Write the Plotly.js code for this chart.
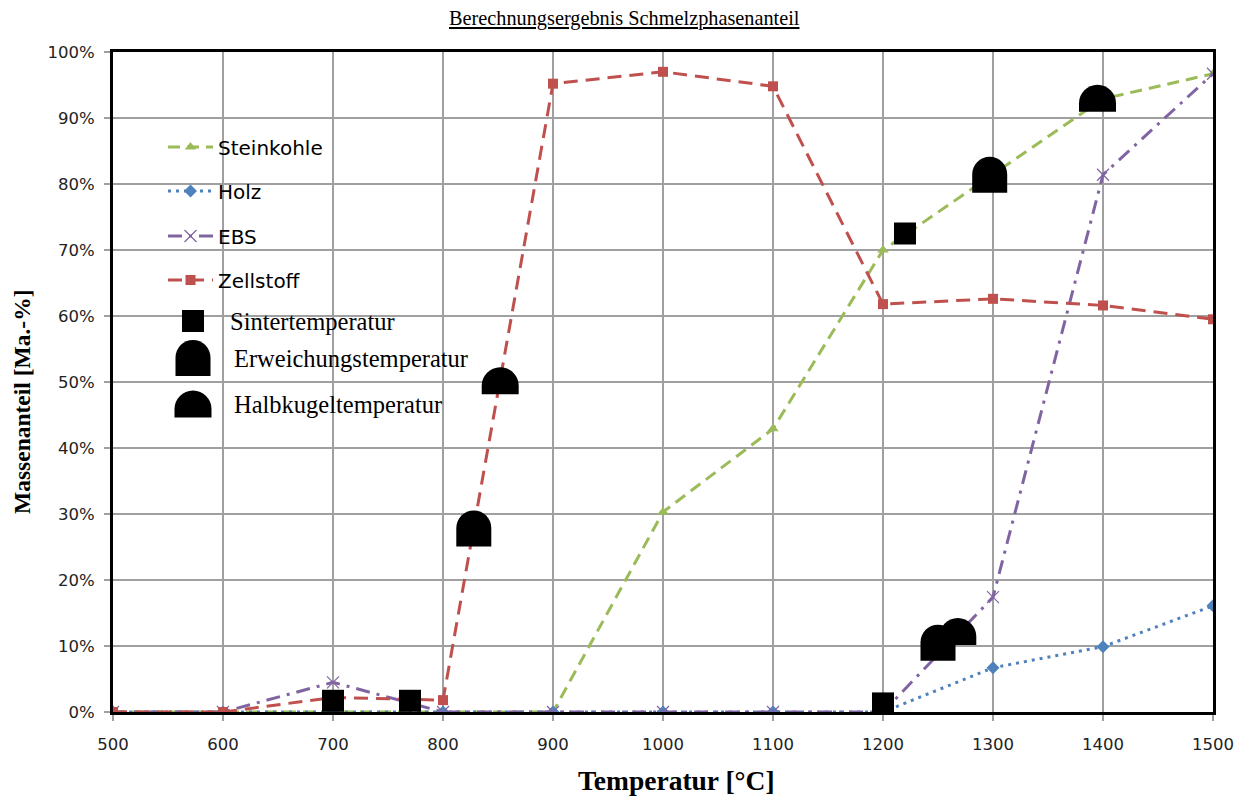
<!DOCTYPE html>
<html>
<head>
<meta charset="utf-8">
<script src="https://cdn.plot.ly/plotly-3.0.1.min.js"></script>
<style>html,body{margin:0;padding:0;background:#fff;}#chart{width:1246px;height:796px;}</style>
</head>
<body>
<div id="chart"></div>
<script>
// ---- Data ----
const temperatures = [500, 600, 700, 800, 900, 1000, 1100, 1200, 1300, 1400, 1500];
const steinkohle = [0, 0, 0, 0, 0, 30.3, 42.9, 70.0, 81.5, 92.9, 96.7];
const holz       = [0, 0, 0, 0, 0, 0, 0, 0, 6.7, 9.9, 16.1];
const ebs        = [0, 0, 4.5, 0, 0, 0, 0, 0, 17.4, 81.4, 96.7];
const zellstoff  = [0, 0, 2.2, 1.8, 95.2, 97.0, 94.8, 61.8, 62.6, 61.6, 59.5];

const sinterT = [700, 770, 1200, 1220];
const sinterV = [1.7, 1.7, 1.3, 72.5];
const erweichT = [828, 1250, 1297];
const erweichV = [27.8, 10.5, 81.4];
const halbkugelT = [852, 1268, 1395];
const halbkugelV = [50.2, 12.2, 93.0];

const seriesNames = ['Steinkohle', 'Holz', 'EBS', 'Zellstoff'];
const markerNames = ['Sintertemperatur', 'Erweichungstemperatur', 'Halbkugeltemperatur'];
const xTicks = [500, 600, 700, 800, 900, 1000, 1100, 1200, 1300, 1400, 1500];
const yTicks = [0, 10, 20, 30, 40, 50, 60, 70, 80, 90, 100];

// ---- Layout helpers ----
const L = 113, R = 1213, T = 52, B = 712;
const px2x = p => (p - L) / (R - L);
const py2y = p => (B - p) / (B - T);

function k(r) { return 0.5523 * r; }
// arch: semicircle on rectangle, centred at anchor (pixel units, y up)
function archPath(w, h) {
  const r = w / 2, bottom = -h / 2, top = h / 2, yc = top - r, c = k(r);
  return `M ${-r},${bottom} L ${-r},${yc} C ${-r},${yc + c} ${-c},${top} 0,${top} C ${c},${top} ${r},${yc + c} ${r},${yc} L ${r},${bottom} Z`;
}
const ARCH = archPath(35, 36);
const DOME = archPath(37, 27);

const colors = ['#9BBB59', '#4F81BD', '#8064A2', '#C0504D'];
const dashes = ['12px,7px', '3px,5px', '14px,7px,3px,7px', '14px,8px'];
const symbols = ['triangle-up', 'diamond', 'x-thin-open', 'square'];
const msizes = [10, 10, 12, 10];
const seriesData = [steinkohle, holz, ebs, zellstoff];
const legendY = [147, 191, 236, 280];

const traces = seriesData.map((vals, i) => ({
  type: 'scatter', mode: 'lines+markers', name: seriesNames[i],
  x: temperatures, y: vals,
  legend: i === 0 ? 'legend' : 'legend' + (i + 1),
  line: {color: colors[i], width: 3, dash: dashes[i]},
  marker: {symbol: symbols[i], size: msizes[i], color: colors[i], line: {color: colors[i], width: i === 2 ? 1.2 : 0}}
}));

traces.push({
  type: 'scatter', mode: 'markers', name: markerNames[0], showlegend: false,
  x: sinterT, y: sinterV,
  marker: {symbol: 'square', size: 22, color: '#000'}
});
traces.push({
  type: 'scatter', mode: 'markers', name: markerNames[1], showlegend: false,
  x: erweichT, y: erweichV, marker: {size: 30, opacity: 0}
});
traces.push({
  type: 'scatter', mode: 'markers', name: markerNames[2], showlegend: false,
  x: halbkugelT, y: halbkugelV, marker: {size: 30, opacity: 0}
});

const shapes = [];
// white legend backing boxes (above grid, below traces)
shapes.push({type: 'rect', xref: 'paper', yref: 'paper', layer: 'between',
  x0: px2x(155), x1: px2x(367), y0: py2y(297), y1: py2y(125), fillcolor: '#fff', line: {width: 0}});
shapes.push({type: 'rect', xref: 'paper', yref: 'paper', layer: 'between',
  x0: px2x(180), x1: px2x(497), y0: py2y(425), y1: py2y(297), fillcolor: '#fff', line: {width: 0}});

erweichT.forEach((t, i) => shapes.push({type: 'path', xref: 'x', yref: 'y', xsizemode: 'pixel', ysizemode: 'pixel',
  xanchor: t, yanchor: erweichV[i], path: ARCH, fillcolor: '#000', line: {width: 0}, layer: 'above'}));
halbkugelT.forEach((t, i) => shapes.push({type: 'path', xref: 'x', yref: 'y', xsizemode: 'pixel', ysizemode: 'pixel',
  xanchor: t, yanchor: halbkugelV[i], path: DOME, fillcolor: '#000', line: {width: 0}, layer: 'above'}));

// marker legend symbols
const SQ = 'M -11,-11 L -11,11 L 11,11 L 11,-11 Z';
const mlegY = [321, 358, 404];
const mlegPaths = [SQ, ARCH, DOME];
mlegPaths.forEach((p, i) => shapes.push({type: 'path', xref: 'paper', yref: 'paper', xsizemode: 'pixel', ysizemode: 'pixel',
  xanchor: px2x(193), yanchor: py2y(mlegY[i]), path: p, fillcolor: '#000', line: {width: 0}, layer: 'above'}));

const serif = 'Liberation Serif, Times New Roman, serif';
const sans = 'DejaVu Sans, Verdana, sans-serif';

const annotations = [
  {text: '<u>Berechnungsergebnis Schmelzphasenanteil</u>', xref: 'paper', yref: 'paper', x: px2x(624), y: py2y(18),
   showarrow: false, xanchor: 'center', yanchor: 'middle', font: {family: serif, size: 20.3, color: '#000'}},
  {text: '<b>Massenanteil [Ma.-%]</b>', xref: 'paper', yref: 'paper', x: px2x(22), y: py2y(402), textangle: -90,
   showarrow: false, xanchor: 'center', yanchor: 'middle', font: {family: serif, size: 23.5, color: '#000'}},
  {text: '<b>Temperatur [°C]</b>', xref: 'paper', yref: 'paper', x: px2x(676), y: py2y(780),
   showarrow: false, xanchor: 'center', yanchor: 'middle', font: {family: serif, size: 27.5, color: '#000'}}
];
const mlegTextX = [228, 232, 232];
markerNames.forEach((n, i) => annotations.push({text: n, xref: 'paper', yref: 'paper', x: px2x(mlegTextX[i]), y: py2y(mlegY[i]),
  showarrow: false, xanchor: 'left', yanchor: 'middle', font: {family: serif, size: 24.5, color: '#000'}}));

const layout = {
  width: 1246, height: 796,
  margin: {l: L, r: 1246 - R, t: T, b: 796 - B},
  paper_bgcolor: '#fff', plot_bgcolor: '#fff',
  showlegend: true,
  xaxis: {range: [500, 1500], tickvals: xTicks, ticktext: xTicks.map(String),
    showgrid: true, gridcolor: '#a0a0a0', gridwidth: 1.5, zeroline: false,
    showline: true, linecolor: '#000', linewidth: 3, mirror: true,
    ticks: 'outside', ticklen: 6, tickcolor: '#a0a0a0', tickwidth: 1.5, ticklabelstandoff: 9,
    tickfont: {family: sans, size: 16.5, color: '#222'}},
  yaxis: {range: [0, 100], tickvals: yTicks, ticktext: yTicks.map(v => v + '%'),
    showgrid: true, gridcolor: '#a0a0a0', gridwidth: 1.5, zeroline: false,
    showline: true, linecolor: '#000', linewidth: 3, mirror: true,
    ticks: 'outside', ticklen: 6, tickcolor: '#a0a0a0', tickwidth: 1.5, ticklabelstandoff: 6,
    tickfont: {family: sans, size: 16.5, color: '#222'}},
  shapes: shapes,
  annotations: annotations
};
legendY.forEach((py, i) => {
  const key = i === 0 ? 'legend' : 'legend' + (i + 1);
  layout[key] = {x: px2x(163), y: py2y(py), xanchor: 'left', yanchor: 'middle', xref: 'paper', yref: 'paper',
    bgcolor: 'rgba(0,0,0,0)', borderwidth: 0, itemwidth: 45, itemclick: false, itemdoubleclick: false,
    font: {family: sans, size: 20, color: '#000'}};
});

Plotly.newPlot('chart', traces, layout, {displayModeBar: false, staticPlot: true});
</script>
</body>
</html>
